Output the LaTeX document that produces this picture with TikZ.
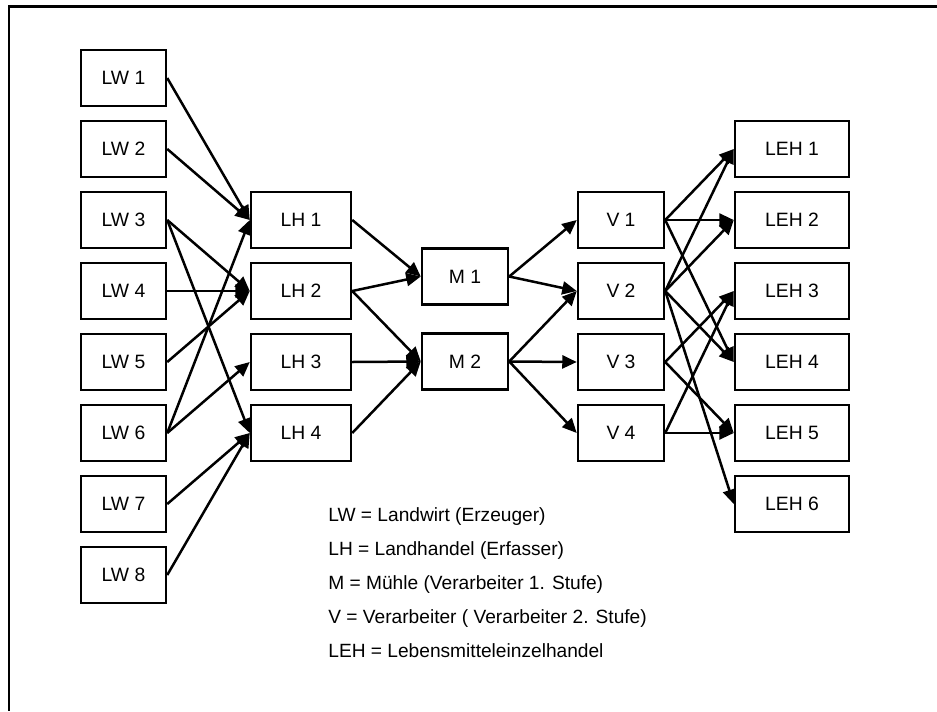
\documentclass[tikz,border=0pt]{standalone}
\usepackage{fontspec}
\setmainfont{Liberation Sans}
\usepackage{tikz}
\usetikzlibrary{arrows.meta,positioning}
\tikzset{
  box/.style={draw,line width=0.05cm,minimum height=1.12cm,inner sep=0pt,
    font=\fontsize{11}{13}\selectfont},
  flow/.style={line width=0.05cm,-{Triangle[length=2.9mm,width=2.6mm]}},
  legend/.style={inner sep=0pt,anchor=base west,font=\fontsize{10.9}{13}\selectfont}
}

\begin{document}
\begin{tikzpicture}[x=0.02cm,y=-0.02cm]
  \useasboundingbox (0,0) rectangle (937,711);
  \draw[line width=0.06cm] (937,6) -- (9,6) -- (9,711);
  % Stufen
  \foreach \i in {1,...,8}
    \node[box,minimum width=1.7cm] (lw\i) at (123.5,{78+71*(\i-1)}) {LW \i};
  \foreach \i in {1,...,4}
    \node[box,minimum width=2cm] (lh\i) at (301,{220+71*(\i-1)}) {LH \i};
  \node[box,minimum width=1.72cm] (m1) at (465,276.5) {M 1};
  \node[box,minimum width=1.72cm] (m2) at (465,361.5) {M 2};
  \foreach \i in {1,...,4}
    \node[box,minimum width=1.72cm] (v\i) at (621,{220+71*(\i-1)}) {V \i};
  \foreach \i in {1,...,6}
    \node[box,minimum width=2.28cm] (leh\i) at (792,{149+71*(\i-1)}) {LEH \i};
  % Lieferbeziehungen
  \foreach \a/\b in {lw1/lh1,lw2/lh1,lw6/lh1,lw3/lh2,lw4/lh2,lw5/lh2,lw6/lh3,
      lw3/lh4,lw7/lh4,lw8/lh4,
      lh1/m1,lh2/m1,lh2/m2,lh3/m2,lh4/m2,
      m1/v1,m1/v2,m2/v2,m2/v3,m2/v4,
      v1/leh1,v1/leh2,v1/leh4,v2/leh1,v2/leh2,v2/leh4,v2/leh6,
      v3/leh3,v3/leh5,v4/leh3,v4/leh5}
    \draw[flow] (\a.east) -- (\b.west);
  % Legende
  \node[legend] (leg1) at (328,521) {LW = Landwirt (Erzeuger)};
  \node[legend] (leg2) at (328,555) {LH = Landhandel (Erfasser)};
  \node[legend] (leg3) at (328,589) {M = Mühle (Verarbeiter 1. Stufe)};
  \node[legend] (leg4) at (328,623) {V = Verarbeiter ( Verarbeiter 2. Stufe)};
  \node[legend] (leg5) at (328,657) {LEH = Lebensmitteleinzelhandel};
\end{tikzpicture}
\end{document}
